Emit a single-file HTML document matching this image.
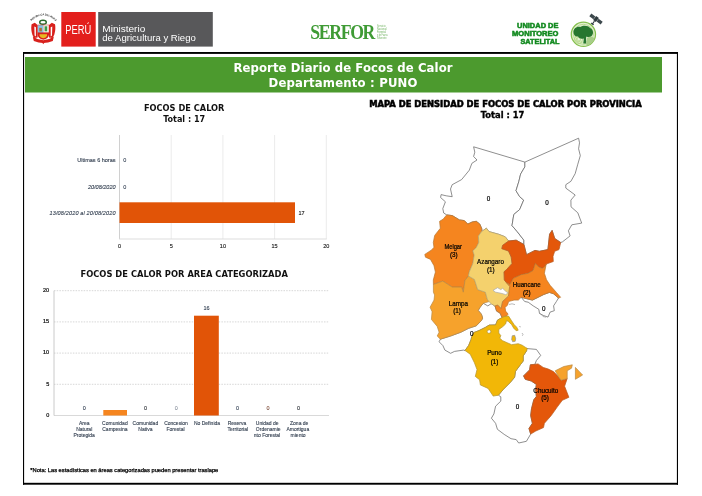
<!DOCTYPE html>
<html lang="es">
<head>
<meta charset="utf-8">
<title>Reporte Diario de Focos de Calor - PUNO</title>
<style>
html,body{margin:0;padding:0;background:#fff;}
body{width:702px;height:496px;overflow:hidden;position:relative;font-family:"Liberation Sans",sans-serif;}
svg{position:absolute;left:0;top:0;display:block;}
text{font-family:"Liberation Sans",sans-serif;}
.serif{font-family:"Liberation Serif",serif;}
.b{font-weight:bold;}
text.djc{font-family:"DejaVu Sans Condensed","DejaVu Sans","Liberation Sans",sans-serif;}
text.dj{font-family:"DejaVu Sans","Liberation Sans",sans-serif;}
.i{font-style:italic;}
.ax{font-size:5.500px;fill:#222;stroke:#222;stroke-width:0.150;}
.cat{font-size:5.500px;fill:#333f50;stroke:#333f50;stroke-width:0.120;}
.val{font-size:5.500px;fill:#2f3d50;stroke:#2f3d50;stroke-width:0.100;}
.ml{font-size:6.300px;fill:#000;stroke:#000;stroke-width:0.200;}
.prov{stroke:#5f5f5f;stroke-width:0.700;stroke-linejoin:round;}
</style>
</head>
<body>
<svg width="702" height="496" viewBox="0 0 702 496">
<!-- ===== HEADER ===== -->
<g id="hdr">
  <rect x="61.300" y="12" width="34.400" height="34.600" fill="#e31f1c"/>
  <rect x="98.200" y="12" width="114.600" height="34.600" fill="#58585a"/>
  <text x="65.300" y="33.500" font-size="12" fill="#fff" textLength="26" lengthAdjust="spacingAndGlyphs">PERÚ</text>
  <text x="102.300" y="31.500" font-size="9" fill="#fff" textLength="43" lengthAdjust="spacingAndGlyphs">Ministerio</text>
  <text x="102.300" y="40.700" font-size="9" fill="#fff" textLength="93.500" lengthAdjust="spacingAndGlyphs">de Agricultura y Riego</text>
  <!-- escudo -->
  <g id="escudo">
    <path id="arcp" d="M31.300 21 Q43.300 9.600 55.300 21" fill="none" stroke="none"/>
    <text font-size="2.500" class="b" fill="#2a2a2a" textLength="27.500" lengthAdjust="spacing"><textPath href="#arcp" startOffset="0">REPÚBLICA DEL PERÚ</textPath></text>
    <path d="M31.600 24.300 L34.800 22.800 L37.600 25 L37.600 37.500 L34 38 C31.300 34 30.800 28 31.600 24.300 Z" fill="#d8201c"/>
    <path d="M55 24.300 L51.800 22.800 L49 25 L49 37.500 L52.600 38 C55.300 34 55.800 28 55 24.300 Z" fill="#d8201c"/>
    <path d="M34.300 26.500 L35.900 27.300 L35.900 36.500 L34.600 35.500 Z" fill="#fff"/>
    <path d="M52.300 26.500 L50.700 27.300 L50.700 36.500 L52 35.500 Z" fill="#fff"/>
    <path d="M32.800 36.800 Q43.300 43.500 53.800 36.800 L52.800 41 Q43.300 45.200 33.800 41 Z" fill="#d8201c"/>
    <path d="M41.800 42 L44.800 42 L43.300 44.200 Z" fill="#d8201c"/>
    <ellipse cx="43" cy="22.300" rx="3.300" ry="2" fill="#fff" stroke="#2a6a2a" stroke-width="1.400"/>
    <path d="M37.600 24.800 H49 V34.500 Q49 38.300 43.300 39.800 Q37.600 38.300 37.600 34.500 Z" fill="#d8201c"/>
    <rect x="37.800" y="25.200" width="5.500" height="7.200" fill="#86c4e6"/>
    <rect x="43.300" y="25.200" width="5.500" height="7.200" fill="#f2f5ee"/>
    <rect x="39.300" y="27.800" width="2.600" height="3.600" fill="#a8743a"/>
    <rect x="44.600" y="26.300" width="2.600" height="5" fill="#3c9a48"/>
    <path d="M39.600 34.300 H47 V35.800 Q46.300 37.800 43.300 38.300 Q40.300 37.800 39.600 35.800 Z" fill="#e8b820"/>
  </g>
  <!-- serfor -->
  <g transform="translate(310.300 38.500) scale(0.820 1)">
    <text class="serif b" x="0" y="0" font-size="21.600" fill="#3f9b35" letter-spacing="-1.650">SERFOR</text>
  </g>
  <g font-size="2.900" fill="#6fb25f" lengthAdjust="spacingAndGlyphs">
    <text x="377" y="27.400" textLength="8.600" lengthAdjust="spacingAndGlyphs">Servicio</text>
    <text x="377" y="30.300" textLength="9.600" lengthAdjust="spacingAndGlyphs">Nacional</text>
    <text x="377" y="33.200" textLength="9" lengthAdjust="spacingAndGlyphs">Forestal</text>
    <text x="377" y="36.100" textLength="10.600" lengthAdjust="spacingAndGlyphs">y de Fauna</text>
    <text x="377" y="39" textLength="9.600" lengthAdjust="spacingAndGlyphs">Silvestre</text>
  </g>
  <!-- unidad de monitoreo satelital -->
  <g font-size="7.600" class="b" fill="#138a20" stroke="#138a20" stroke-width="0.550" text-anchor="end">
    <text x="558.500" y="27.600" textLength="41.500" lengthAdjust="spacingAndGlyphs">UNIDAD DE</text>
    <text x="558.500" y="36.100" textLength="46.500" lengthAdjust="spacingAndGlyphs">MONITOREO</text>
    <text x="559.500" y="44.300" textLength="39" lengthAdjust="spacingAndGlyphs">SATELITAL</text>
  </g>
  <g id="satlogo">
    <circle cx="583.400" cy="34.300" r="12.100" fill="#e3f0d4" stroke="#86c04e" stroke-width="1.300"/>
    <circle cx="583.400" cy="34.300" r="10" fill="none" stroke="#a5d070" stroke-width="0.700"/>
    <circle cx="583.400" cy="34.300" r="8" fill="none" stroke="#b7d98a" stroke-width="0.600"/>
    <circle cx="578.500" cy="39.500" r="4" fill="none" stroke="#a5d070" stroke-width="0.700"/>
    <circle cx="578.500" cy="39.500" r="2" fill="none" stroke="#a5d070" stroke-width="0.700"/>
    <path d="M573.500 32.500 C573 28.500 577 26 580.500 27 C583 25 588.500 25.500 590 28 C593 29 594 33 592 35.500 C590.500 37.500 588 37.300 586.500 36.500 L586 38 L586.300 43.600 L583.300 43.600 L583.800 38.500 C581 39.500 578.500 38 578 36.500 C575.500 36.800 573.500 35 573.500 32.500 Z" fill="#26762f"/>
    <path d="M586.800 38 C589.500 35.800 593.500 36.500 594.500 38.500 C593.500 42.500 590 45 586.300 45.500 Z" fill="#a7cd88"/>
    <g transform="translate(596 19) rotate(36)">
      <rect x="-1.700" y="-2.600" width="3.400" height="5.200" fill="#2e3a3e"/>
      <rect x="-7" y="-1.700" width="5" height="3.400" fill="#3d494d"/>
      <rect x="2" y="-1.700" width="5" height="3.400" fill="#3d494d"/>
      <rect x="-0.500" y="2.600" width="1" height="4" fill="#2e3a3e"/>
      <rect x="-1.600" y="5.600" width="3.200" height="1" fill="#2e3a3e"/>
    </g>
  </g>
</g>
<!-- ===== FRAME ===== -->
<g fill="#000">
  <rect x="23" y="52" width="655" height="1.900"/>
  <rect x="23" y="482.800" width="655" height="1.900"/>
  <rect x="23" y="52" width="1.100" height="432.700"/>
  <rect x="676.900" y="52" width="1.100" height="432.700"/>
</g>
<rect x="25" y="57" width="637" height="35.500" fill="#4c9a2e"/>
<text x="343" y="72.200" font-size="11.700" class="b dj" fill="#fff" text-anchor="middle" textLength="219" lengthAdjust="spacing">Reporte Diario de Focos de Calor</text>
<text x="343" y="87.400" font-size="11.700" class="b dj" fill="#fff" text-anchor="middle" textLength="149" lengthAdjust="spacing">Departamento : PUNO</text>

<!-- ===== CHART 1 ===== -->
<g id="c1">
  <text x="184.200" y="111.100" font-size="9.200" class="b djc" fill="#111" text-anchor="middle" textLength="80.500" lengthAdjust="spacingAndGlyphs">FOCOS DE CALOR</text>
  <text x="184.200" y="121.700" font-size="9.200" class="b djc" fill="#111" text-anchor="middle" textLength="42" lengthAdjust="spacingAndGlyphs">Total : 17</text>
  <g stroke="#e2e2e2" stroke-width="0.700">
    <line x1="171.200" y1="135" x2="171.200" y2="239"/>
    <line x1="222.900" y1="135" x2="222.900" y2="239"/>
    <line x1="274.600" y1="135" x2="274.600" y2="239"/>
    <line x1="326.300" y1="135" x2="326.300" y2="239"/>
  </g>
  <line x1="119.500" y1="135" x2="119.500" y2="239" stroke="#d0d0d0" stroke-width="1"/>
  <line x1="119" y1="239" x2="326.700" y2="239" stroke="#d9d9d9" stroke-width="0.900"/>
  <rect x="119.500" y="202.300" width="175.500" height="20.700" fill="#e15407"/>
  <text class="cat" x="115.500" y="162.300" text-anchor="end">Ultimas 6 horas</text>
  <text class="cat i" x="115.500" y="188.500" text-anchor="end">20/08/2020</text>
  <text class="cat i" x="115.500" y="214.600" text-anchor="end" textLength="66" lengthAdjust="spacing">13/08/2020 al 20/08/2020</text>
  <text class="val" x="124.700" y="162.300" text-anchor="middle">0</text>
  <text class="val" x="124.700" y="188.500" text-anchor="middle">0</text>
  <text class="val" x="301.600" y="214.600" text-anchor="middle" style="fill:#111;stroke:#111">17</text>
  <text class="ax" x="119.500" y="247.500" text-anchor="middle">0</text>
  <text class="ax" x="171.200" y="247.500" text-anchor="middle">5</text>
  <text class="ax" x="222.900" y="247.500" text-anchor="middle">10</text>
  <text class="ax" x="274.600" y="247.500" text-anchor="middle">15</text>
  <text class="ax" x="326.300" y="247.500" text-anchor="middle">20</text>
</g>
<!-- ===== CHART 2 ===== -->
<g id="c2">
  <text x="184.200" y="276.500" font-size="9.200" class="b djc" fill="#111" text-anchor="middle" textLength="207.500" lengthAdjust="spacingAndGlyphs">FOCOS DE CALOR POR AREA CATEGORIZADA</text>
  <g stroke="#d2d2d2" stroke-width="0.900" stroke-dasharray="1.500 1.200">
    <line x1="54" y1="290.700" x2="329" y2="290.700"/>
    <line x1="54" y1="321.900" x2="329" y2="321.900"/>
    <line x1="54" y1="353.100" x2="329" y2="353.100"/>
    <line x1="54" y1="384.300" x2="329" y2="384.300"/>
  </g>
  <line x1="54" y1="415.500" x2="329" y2="415.500" stroke="#cfcfcf" stroke-width="0.800"/>
  <line x1="54" y1="290.700" x2="54" y2="415.500" stroke="#c4c4c4" stroke-width="0.900"/>
  <rect x="103.300" y="410" width="23.700" height="5.500" fill="#f5851f"/>
  <rect x="194" y="315.700" width="24.800" height="99.800" fill="#e15407"/>
  <g class="ax" text-anchor="end" style="fill:#111;stroke:#111;stroke-width:0.220">
    <text x="49.200" y="292">20</text>
    <text x="49.200" y="323.200">15</text>
    <text x="49.200" y="354.400">10</text>
    <text x="49.200" y="385.600">5</text>
    <text x="49.200" y="417.400">0</text>
  </g>
  <g class="val" text-anchor="middle">
    <text x="84.300" y="410.200">0</text>
    <text x="145.600" y="410.200" fill="#222">0</text>
    <text x="176.300" y="410.200" fill="#b9bec6">0</text>
    <text x="206.500" y="310.400">16</text>
    <text x="237.500" y="410.200">0</text>
    <text x="268" y="410.200" fill="#a0522d">0</text>
    <text x="298.600" y="410.200" fill="#222">0</text>
  </g>
  <g class="cat" text-anchor="middle" style="font-size:5px">
    <text x="84.200" y="424.800">Area</text><text x="84.200" y="431.100">Natural</text><text x="84.200" y="437.400">Protegida</text>
    <text x="114.900" y="424.800">Comunidad</text><text x="114.900" y="431.100">Campesina</text>
    <text x="145.400" y="424.800">Comunidad</text><text x="145.400" y="431.100">Nativa</text>
    <text x="176" y="424.800">Concesion</text><text x="175.500" y="431.100">Forestal</text>
    <text x="207" y="424.800">No Definida</text>
    <text x="237" y="424.800">Reserva</text><text x="237.800" y="431.100">Territorial</text>
    <text x="267.200" y="424.800">Unidad de</text><text x="268.200" y="431.100">Ordenamie</text><text x="267" y="437.400">nto Forestal</text>
    <text x="299.200" y="424.800">Zona de</text><text x="297.800" y="431.100">Amortigua</text><text x="298.100" y="437.400">miento</text>
  </g>
  <text x="30.300" y="472" font-size="5.300" fill="#000" stroke="#000" stroke-width="0.250" textLength="188" lengthAdjust="spacingAndGlyphs">*Nota: Las estadísticas en áreas categorizadas pueden presentar traslape</text>
</g>

<!-- ===== MAP ===== -->
<g id="map">
  <text x="505.400" y="106.700" font-size="8.600" class="b djc" fill="#000" stroke="#000" stroke-width="0.500" text-anchor="middle" textLength="272.500" lengthAdjust="spacingAndGlyphs">MAPA DE DENSIDAD DE FOCOS DE CALOR POR PROVINCIA</text>
  <text x="502.600" y="117.800" font-size="8.600" class="b djc" fill="#000" stroke="#000" stroke-width="0.300" text-anchor="middle" textLength="43.500" lengthAdjust="spacingAndGlyphs">Total : 17</text>
  <polygon class="prov" fill="#ffffff" points="473.6,146.8 474.8,152.2 473.6,156.5 477.0,160.0 471.9,163.3 469.3,170.2 461.6,179.6 452.2,184.7 450.5,189.0 452.2,196.7 446.2,195.8 441.1,194.6 440.6,197.5 445.4,201.8 442.8,208.6 443.7,213.0 446.7,214.9 452.3,215.6 459.4,219.9 464.3,220.6 467.8,224.1 472.1,222.0 476.3,221.3 479.8,224.1 481.9,229.0 481.6,231.6 486.4,228.2 489.0,231.6 498.4,234.2 505.2,236.8 508.6,241.0 516.2,240.2 523.9,244.5 523.9,240.2 517.2,231.6 512.0,225.6 513.8,214.5 519.7,209.5 523.7,200.1 519.7,196.7 516.0,190.7 518.9,181.3 520.6,174.1 524.9,166.8 524.9,162.1"/>
  <polygon class="prov" fill="#ffffff" points="524.9,162.1 578.6,138.2 579.5,142.8 578.6,148.8 580.3,155.6 577.8,164.2 575.2,173.6 570.9,181.3 565.8,184.7 565.8,188.1 575.2,195.0 570.9,200.1 571.0,206.8 577.8,212.8 581.7,223.1 571.8,224.8 568.4,230.8 570.1,235.9 562.4,241.9 560.7,242.5 554.7,238.5 552.1,230.4 549.6,234.2 547.9,249.6 539.3,251.3 535.0,250.4 526.5,254.7 523.9,244.5 523.9,240.2 517.2,231.6 512.0,225.6 513.8,214.5 519.7,209.5 523.7,200.1 519.7,196.7 516.0,190.7 518.9,181.3 520.6,174.1 524.9,166.8"/>
  <polygon class="prov" fill="#ffffff" points="526.6,350.8 526.2,348.5 536.4,349.4 540.7,355.4 536.4,360.5 534.7,364.8 530.4,364.8 529.6,369.9 523.6,375.9 525.3,379.3 531.3,381.0 536.4,384.4 535.6,389.6 536.4,396.4 533.8,399.8 531.5,408.8 530.7,415.6 532.4,423.3 529.0,428.5 530.7,434.1 526.4,441.3 518.7,443.0 516.2,439.6 511.0,438.7 504.2,434.4 497.4,429.3 495.6,423.3 491.4,418.2 493.9,413.9 495.6,406.2 500.8,401.1 500.8,396.8 498.4,395.2 503.5,389.2 510.3,382.4 514.6,377.3 515.5,371.3 520.6,364.4 523.2,361.0 523.2,355.9"/>
  <polygon class="prov" fill="#ffffff" points="521.2,297.3 526.8,298.7 532.4,300.1 538.1,297.3 543.7,294.5 549.4,292.4 553.6,293.8 558.5,298.0 556.4,301.5 553.6,305.8 554.3,310.7 550.1,312.1 548.0,317.1 543.7,315.6 539.5,313.5 538.8,309.3 533.1,305.8 528.2,302.2 524.7,301.5"/>
  <polygon class="prov" fill="#ffffff" points="483.3,303.3 487.8,305.9 491.2,303.7 495.0,306.0 496.6,311.1 500.1,313.1 502.1,317.6 497.6,320.0 495.6,324.9 489.2,325.1 485.4,327.4 479.0,330.6 473.8,332.6 471.9,336.4 471.0,339.7 468.6,345.6 465.0,350.5 463.5,350.1 454.5,351.4 450.6,353.3 444.9,350.1 442.9,345.6 439.1,341.8 440.4,339.2 450.6,336.0 460.9,332.2 468.6,328.3 476.3,325.8 481.4,320.6 482.7,318.1 481.4,314.2 478.2,310.4 480.1,307.2"/>
  <polygon class="prov" fill="#f5851f" points="452.3,215.6 459.4,219.9 464.3,220.6 467.8,224.1 472.1,222.0 476.3,221.3 479.8,224.1 481.9,229.0 481.6,231.6 478.4,236.1 478.8,242.4 476.3,247.4 472.8,250.9 474.2,255.1 472.8,263.6 469.2,272.1 468.5,276.0 465.0,280.3 463.3,292.2 461.6,287.1 452.2,287.1 442.8,281.1 433.4,284.5 433.3,280.0 435.4,272.1 434.0,265.7 430.5,259.4 425.5,257.2 424.8,254.4 431.2,250.2 434.0,247.4 433.3,242.4 434.7,235.4 440.3,228.3 439.6,221.3 443.1,219.2 446.7,214.9" style="stroke:#b8762f"/>
  <polygon class="prov" fill="#f6a22c" points="433.4,284.5 442.8,281.1 452.2,287.1 461.6,287.1 463.3,292.2 465.0,280.3 468.5,276.0 474.4,279.4 477.7,289.6 485.4,292.2 487.3,299.2 489.0,301.6 483.3,303.3 480.1,307.2 478.2,310.4 481.4,314.2 482.7,318.1 481.4,320.6 476.3,325.8 468.6,328.3 460.9,332.2 450.6,336.0 440.4,339.2 437.2,336.0 439.1,332.2 437.2,326.4 431.4,319.4 432.1,311.7 430.1,307.2 434.0,300.1 434.6,295.0 433.4,292.2" style="stroke:#b98a45"/>
  <polygon class="prov" fill="#f4d16d" points="481.6,231.6 486.4,228.2 489.0,231.6 498.4,234.2 505.2,236.8 508.6,241.0 502.6,245.3 501.8,248.7 508.5,251.0 511.2,257.0 512.0,263.5 506.9,269.2 504.0,271.8 504.3,280.0 508.5,285.1 509.7,286.4 508.5,296.0 502.6,301.5 501.1,308.6 497.6,305.0 495.0,306.0 491.2,303.7 489.0,301.6 487.3,299.2 485.4,292.2 477.7,289.6 474.4,279.4 468.5,276.0 469.2,272.1 472.8,263.6 474.2,255.1 472.8,250.9 476.3,247.4 478.8,242.4 478.4,236.1" style="stroke:#b9a670"/>
  <polygon class="prov" fill="#ffffff" points="493.0,290.3 497.6,287.7 500.8,289.6 502.7,288.3 505.3,290.9 507.8,292.8 505.9,294.7 502.0,293.5 498.8,292.8 495.6,292.2" style="stroke:#aaa"/>
  <polygon class="prov" fill="#e4570a" points="502.6,245.3 508.6,241.0 516.2,240.2 523.9,244.5 526.5,254.7 535.0,250.4 539.3,251.3 547.9,249.6 549.6,234.2 552.1,230.4 554.7,238.5 560.7,242.5 559.0,249.6 554.7,251.3 553.0,256.4 553.3,261.5 546.2,264.1 545.1,266.3 542.3,268.4 538.8,267.0 535.3,263.5 533.1,270.5 528.2,273.3 521.2,274.7 513.4,278.3 509.9,284.6 506.3,282.5 504.3,280.0 504.0,271.8 506.9,269.2 512.0,263.5 511.2,257.0 508.5,251.0 501.8,248.7" style="stroke:#b8581c"/>
  <polygon class="prov" fill="#f5851f" points="506.3,282.5 509.9,284.6 513.4,278.3 521.2,274.7 528.2,273.3 533.1,270.5 535.3,263.5 538.8,267.0 542.3,268.4 545.1,266.3 546.2,264.1 544.4,273.3 546.5,279.7 550.1,285.3 556.4,292.4 560.6,297.3 558.5,298.0 553.6,293.8 549.4,292.4 543.7,294.5 538.1,297.3 532.4,300.1 526.8,298.7 521.2,297.3 518.3,300.1 514.1,300.1 508.6,301.5 507.6,305.0 505.1,307.6 505.6,311.1 508.1,314.1 506.6,316.1 504.1,316.6 502.1,317.6 500.1,313.1 496.6,311.1 495.0,306.0 497.6,305.0 501.1,308.6 502.6,301.5 508.5,296.0 509.7,286.4 508.5,285.1" style="stroke:#b8762f"/>
  <polygon class="prov" fill="#f2b707" points="504.1,316.6 508.6,316.1 511.2,320.2 514.2,324.7 516.7,327.2 518.2,330.2 516.2,330.7 513.7,328.2 511.7,324.7 508.6,321.7 506.6,320.5 505.6,324.0 502.6,326.8 498.8,329.4 498.8,333.1 500.8,335.6 499.8,338.2 502.6,340.7 507.1,342.7 511.6,344.7 518.2,343.7 522.2,345.2 525.2,347.2 527.3,348.4 526.6,350.8 523.2,355.9 523.2,361.0 520.6,364.4 515.5,371.3 514.6,377.3 510.3,382.4 503.5,389.2 498.4,395.2 493.2,396.1 488.1,388.4 480.4,385.0 479.6,379.8 475.3,376.4 477.0,369.6 474.4,362.7 470.2,354.2 465.0,350.5 468.6,345.6 471.0,339.7 471.9,336.4 473.8,332.6 479.0,330.6 485.4,327.4 489.2,325.1 495.6,324.9 497.6,320.0 502.1,317.6" style="stroke:#b5942c"/>
  <polygon class="prov" fill="#ffffff" points="487.5,330.3 489.5,329.8 491.0,331.0 490.5,333.0 488.0,333.3 487.0,332.0" style="stroke:#b5942c"/>
  <polygon class="prov" fill="#f2b707" points="512.2,335.8 514.7,335.3 515.7,338.8 515.2,341.3 512.7,341.8 511.7,339.3" style="stroke:#8f8f8f"/>
  <polygon class="prov" fill="#e4570a" points="530.4,364.8 529.6,369.9 523.6,375.9 525.3,379.3 531.3,381.0 536.4,384.4 535.6,389.6 536.4,396.4 533.8,399.8 531.5,408.8 530.7,415.6 532.4,423.3 529.0,428.5 530.7,434.1 535.8,431.0 543.5,427.6 544.4,423.3 551.2,415.6 557.2,407.1 562.3,400.3 568.9,397.3 564.6,386.2 567.2,378.5 561.2,380.2 558.6,376.8 553.5,371.6 548.4,369.1 543.2,367.4 538.1,363.9" style="stroke:#b8581c"/>
  <polygon class="prov" fill="#f6a22c" points="555.2,370.8 563.8,366.5 572.3,364.8 571.5,368.2 567.2,370.8 567.2,378.5 561.2,380.2 558.6,376.8" style="stroke:#b98a45"/>
  <polygon class="prov" fill="#f6a22c" points="575.4,367.4 582.6,375.0 575.4,379.3" style="stroke:#b98a45"/>
  <g fill="none" stroke="#8a8a8a" stroke-width="0.600">
    <polyline points="509,304.500 512,303.800 515,304.600"/>
    <polyline points="519.200,326.500 520.800,326.900"/>
    <polyline points="522,333 523,334.500 522.300,335.800"/>
    <polyline points="540.500,313.500 543,316.500 546,317.200"/>
  </g>
  <g class="ml" text-anchor="middle">
    <text x="488.6" y="200.6">0</text>
    <text x="547.0" y="204.9">0</text>
    <text x="453.2" y="248.6" textLength="17.5" lengthAdjust="spacingAndGlyphs">Melgar</text>
    <text x="453.8" y="257.2">(3)</text>
    <text x="490.5" y="264.0" textLength="26.8" lengthAdjust="spacingAndGlyphs">Azangaro</text>
    <text x="490.8" y="272.0">(1)</text>
    <text x="526.8" y="287.1" textLength="28" lengthAdjust="spacingAndGlyphs">Huancane</text>
    <text x="526.8" y="295.0">(2)</text>
    <text x="543.7" y="310.5">0</text>
    <text x="458.3" y="305.5">Lampa</text>
    <text x="457.0" y="313.2">(1)</text>
    <text x="471.8" y="335.7">0</text>
    <text x="494.5" y="355.0">Puno</text>
    <text x="494.5" y="363.6">(1)</text>
    <text x="545.8" y="392.6">Chucuito</text>
    <text x="545.0" y="400.3">(5)</text>
    <text x="517.6" y="409.2">0</text>
  </g>
</g>
</svg>
</body>
</html>
